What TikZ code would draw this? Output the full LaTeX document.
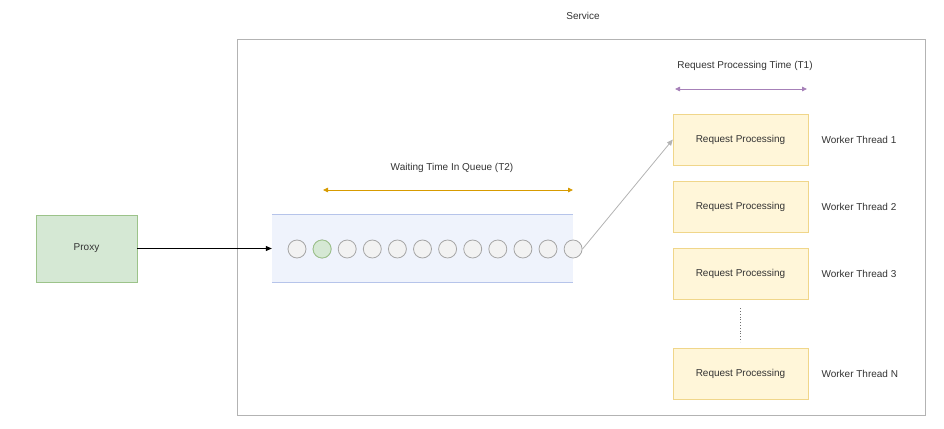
\documentclass[tikz,border=0pt]{standalone}
\usepackage{fontspec}
\setmainfont{Liberation Sans}
\usetikzlibrary{arrows.meta}

\definecolor{textgray}{HTML}{333333}
\definecolor{svcgray}{HTML}{B3B3B3}
\definecolor{proxyfill}{HTML}{D5E8D4}
\definecolor{proxyline}{HTML}{9CC38A}
\definecolor{workfill}{HTML}{FFF6D9}
\definecolor{workline}{HTML}{F0D68A}
\definecolor{queuefill}{HTML}{EFF3FC}
\definecolor{queueline}{HTML}{B6C4EA}
\definecolor{dotfill}{HTML}{F2F2F2}
\definecolor{dotline}{HTML}{A6A6A6}
\definecolor{waitcolor}{HTML}{D79B00}
\definecolor{proccolor}{HTML}{A680B8}

\tikzset{
    lbl/.style={font=\fontsize{10}{12}\selectfont, text=textgray},
    proxybox/.style={lbl, draw=proxyline, fill=proxyfill, minimum width=101pt, minimum height=67pt},
    workbox/.style={lbl, draw=workline, fill=workfill, minimum width=135pt, minimum height=51pt},
    qdot/.style={circle, draw=dotline, fill=dotfill, line width=0.8pt, minimum size=18pt, inner sep=0pt},
    measure/.style={line width=0.8pt, {Triangle[length=5pt,width=4.5pt]}-{Triangle[length=5pt,width=4.5pt]}}
}

\begin{document}
\begin{tikzpicture}[x=1pt, y=-1pt]
    \useasboundingbox (0,0) rectangle (944,428);

    % service frame
    \node[lbl] (svclabel) at (583,16) {Service};
    \draw[svcgray, line width=0.8pt] (237,39) rectangle (925,415);

    \node[proxybox] (proxy) at (86.5,248.5) {Proxy};

    % queue
    \node[fill=queuefill, minimum width=301pt, minimum height=67pt, inner sep=0pt] (queue) at (422.5,248.5) {};
    \draw[queueline, line width=0.8pt] (queue.north west) -- (queue.north east);
    \draw[queueline, line width=0.8pt] (queue.south west) -- (queue.south east);
    \foreach \i in {1,...,12}
        \node[qdot] (c\i) at ({297+(\i-1)*25.1},249) {};
    \node[qdot, draw=proxyline, fill=proxyfill] at (c2) {};

    \draw[line width=0.8pt, -{Triangle[length=6pt,width=5pt]}] (proxy.east) -- (queue.west);

    % waiting time
    \coordinate (t2a) at (323,190);
    \coordinate (t2b) at (573,190);
    \draw[measure, waitcolor] (t2a) -- (t2b);
    \node[lbl] (t2label) at (452,168) {Waiting Time In Queue (T2)};

    % workers
    \node[workbox] (w1) at (740.5,139.5) {Request Processing};
    \node[workbox] (w2) at (740.5,207) {Request Processing};
    \node[workbox] (w3) at (740.5,273.5) {Request Processing};
    \node[workbox] (wN) at (740.5,373.5) {Request Processing};
    \node[lbl, anchor=west] (n1) at (818,139.5) {Worker Thread 1};
    \node[lbl, anchor=west] (n2) at (818,207) {Worker Thread 2};
    \node[lbl, anchor=west] (n3) at (818,273.5) {Worker Thread 3};
    \node[lbl, anchor=west] (nN) at (818,373.5) {Worker Thread N};
    \draw[textgray!70, dotted, line width=0.8pt] ([yshift=-9pt]w3.south) -- ([yshift=6pt]wN.north);

    % processing time
    \coordinate (t1a) at (675,89);
    \coordinate (t1b) at (807,89);
    \draw[measure, proccolor] (t1a) -- (t1b);
    \node[lbl] (t1label) at (745,66) {Request Processing Time (T1)};

    \draw[svcgray, line width=0.8pt, -{Triangle[length=6pt,width=5pt]}] (c12.east) -- (w1.west);
\end{tikzpicture}
\end{document}
